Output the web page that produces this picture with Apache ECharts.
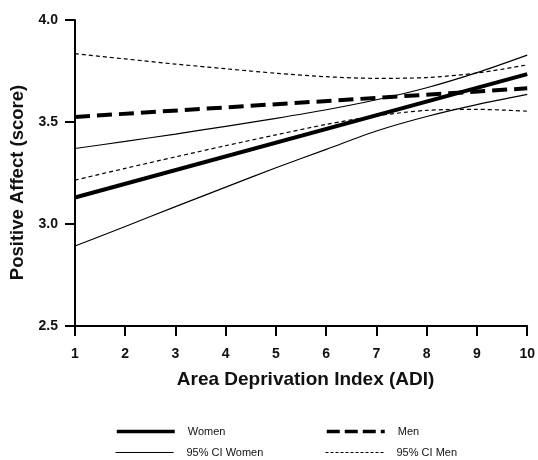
<!DOCTYPE html>
<html>
<head>
<meta charset="utf-8">
<script src="https://cdn.jsdelivr.net/npm/echarts@6/dist/echarts.min.js"></script>
<style>
html,body{margin:0;padding:0;background:#fff;}
#c{width:538px;height:460px;}
</style>
</head>
<body>
<div id="c"></div>
<script>
var xTicks = [1,2,3,4,5,6,7,8,9,10];
var yTicks = [2.5,3.0,3.5,4.0];
var womenX = [1, 10];
var womenY = [3.13, 3.735];
var menX = [1, 10];
var menY = [3.525, 3.665];
var ciX = [1,2,3,4,5,6,7,8,9,10];
var ciWomenUpper = [3.370, 3.405, 3.441, 3.479, 3.518, 3.560, 3.609, 3.668, 3.742, 3.828];
var ciWomenLower = [2.892, 2.988, 3.085, 3.181, 3.276, 3.366, 3.456, 3.527, 3.585, 3.635];
var ciMenUpper = [3.835, 3.809, 3.784, 3.761, 3.739, 3.722, 3.714, 3.718, 3.740, 3.780];
var ciMenLower = [3.215, 3.273, 3.329, 3.384, 3.437, 3.488, 3.530, 3.557, 3.562, 3.553];

function pairs(xs, ys){ return xs.map(function(x,i){ return [x, ys[i]]; }); }

var FONT = 'Liberation Sans, Arial, sans-serif';
var chart = echarts.init(document.getElementById('c'), null, {renderer:'canvas'});

function legendAt(name, left, top, width, dash){
  return {
    data:[name], left:left, top:top, itemWidth:58, itemHeight:12,
    textStyle:{fontFamily:FONT, fontSize:11, color:'#111', padding:[0,0,0,8]},
    itemStyle:{opacity:0},
    lineStyle:{width:width, type:dash || 'solid', color:'#000'},
    selectedMode:false
  };
}

chart.setOption({
  animation:false,
  backgroundColor:'#fff',
  legend:[
    legendAt('Women', 110, 421, 3.5),
    legendAt('Men', 320, 421, 3.5, [13,5]),
    legendAt('95% CI Women', 110, 442, 1),
    legendAt('95% CI Men', 320, 442, 1, [3,2])
  ],
  grid:{left:75, right:5, top:20, bottom:134, containLabel:false},
  xAxis:{
    type:'value', min:1, max:10, interval:1,
    name:'Area Deprivation Index (ADI)', nameLocation:'middle', nameGap:44,
    nameTextStyle:{fontFamily:FONT, fontSize:19, fontWeight:'bold', color:'#111', padding:[0,0,0,9]},
    axisLine:{lineStyle:{color:'#000', width:2}},
    axisTick:{length:10, lineStyle:{color:'#000', width:2}},
    axisLabel:{fontFamily:FONT, fontSize:14, fontWeight:'bold', color:'#111', margin:21,
      showMaxLabel:true, showMinLabel:true,
      formatter:function(v){ return xTicks.indexOf(v) >= 0 ? String(v) : ''; }},
    splitLine:{show:false}
  },
  yAxis:{
    type:'value', min:2.5, max:4.0, interval:0.5,
    name:'Positive Affect (score)', nameLocation:'middle', nameGap:45,
    nameTextStyle:{fontFamily:FONT, fontSize:18.5, fontWeight:'bold', color:'#111', padding:[0,19,0,0]},
    axisLine:{show:true, lineStyle:{color:'#000', width:2}},
    axisTick:{show:true, length:10, lineStyle:{color:'#000', width:2}},
    axisLabel:{fontFamily:FONT, fontSize:14, fontWeight:'bold', color:'#111', margin:17,
      formatter:function(v){ return yTicks.indexOf(v) >= 0 ? v.toFixed(1) : ''; }},
    splitLine:{show:false}
  },
  series:[
    {name:'95% CI Women', type:'line', data:pairs(ciX, ciWomenUpper), symbol:'none', smooth:0.3,
      lineStyle:{color:'#000', width:1.2}, itemStyle:{color:'#000'}},
    {name:'95% CI Women', type:'line', data:pairs(ciX, ciWomenLower), symbol:'none', smooth:0.3,
      lineStyle:{color:'#000', width:1.2}, itemStyle:{color:'#000'}},
    {name:'95% CI Men', type:'line', data:pairs(ciX, ciMenUpper), symbol:'none', smooth:0.3,
      lineStyle:{color:'#000', width:1.2, type:[4,3]}, itemStyle:{color:'#000'}},
    {name:'95% CI Men', type:'line', data:pairs(ciX, ciMenLower), symbol:'none', smooth:0.3,
      lineStyle:{color:'#000', width:1.2, type:[4,3]}, itemStyle:{color:'#000'}},
    {name:'Women', type:'line', data:pairs(womenX, womenY), symbol:'none',
      lineStyle:{color:'#000', width:4}, itemStyle:{color:'#000'}},
    {name:'Men', type:'line', data:pairs(menX, menY), symbol:'none',
      lineStyle:{color:'#000', width:4, type:[15,7]}, itemStyle:{color:'#000'}}
  ]
});
</script>
</body>
</html>
